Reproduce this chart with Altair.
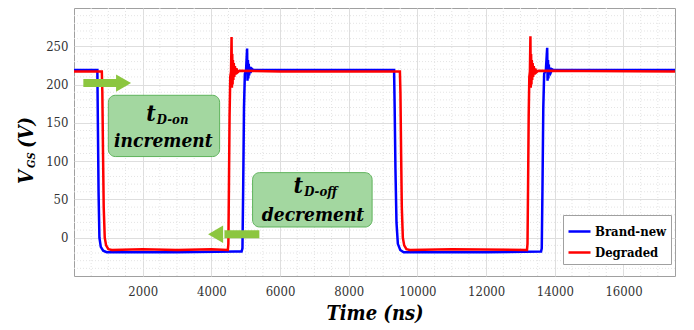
import altair as alt
import pandas as pd

# ---- data ----
series_names = ["Brand-new", "Degraded"]
series_colors = ["#0000ff", "#ff0000"]

brand_new = [
    (0, 219), (680, 219), (695, 150), (715, 60), (740, 0), (780, -12), (850, -17), (950, -19),
    (3000, -19), (4700, -18), (4880, -18), (4905, -14), (4925, 60), (4950, 170), (4975, 214),
    (5010, 219), (5040, 247), (5052, 205), (5064, 232), (5076, 208), (5088, 227), (5100, 212),
    (5118, 223), (5140, 215), (5170, 221), (5220, 219),
    (9320, 219), (9337, 170), (9360, 90), (9390, 20), (9430, -8), (9500, -16), (9600, -19),
    (12000, -19), (13600, -18), (13620, -14), (13640, 60), (13665, 170), (13690, 214),
    (13740, 219), (13778, 248), (13790, 205), (13802, 232), (13814, 208), (13826, 226),
    (13840, 213), (13860, 222), (13885, 216), (13920, 220), (13970, 219), (17500, 219),
]

degraded = [
    (0, 217), (810, 217), (825, 190), (845, 110), (865, 40), (895, 0), (935, -10), (1000, -15),
    (1100, -16), (2000, -15), (3000, -16), (4000, -15), (4480, -16), (4495, -8), (4510, 60),
    (4530, 160), (4550, 210), (4572, 217), (4588, 262), (4598, 196), (4608, 240), (4618, 200),
    (4628, 232), (4640, 206), (4653, 228), (4668, 210), (4686, 224), (4706, 213), (4730, 221),
    (4765, 216), (4815, 218), (6000, 217),
    (9490, 217), (9505, 190), (9525, 110), (9545, 40), (9575, 0), (9615, -10), (9680, -15),
    (9780, -16), (11000, -15), (13190, -16), (13205, -8), (13220, 60), (13240, 160),
    (13258, 210), (13275, 217), (13290, 263), (13300, 196), (13310, 240), (13320, 200),
    (13330, 232), (13342, 206), (13355, 228), (13370, 210), (13388, 224), (13408, 213),
    (13432, 221), (13466, 216), (13515, 218), (17500, 217),
]

x_ticks = [2000, 4000, 6000, 8000, 10000, 12000, 14000, 16000]
y_ticks = [0, 50, 100, 150, 200, 250]
x_domain = [0, 17500]
y_domain = [-50, 300]

minor_x = [m for m in range(500, 17500, 500) if m % 2000 != 0]
minor_y = [m for m in range(-40, 300, 10) if m % 50 != 0]

boxes = pd.DataFrame({
    "t": [1000, 5200], "t2": [4240, 8680],
    "v": [106, 14], "v2": [186, 85],
})
arrow_shafts = pd.DataFrame({"t": [272, 4380], "t2": [1250, 5397], "v": [202, 4.5]})
arrow_heads = pd.DataFrame({"t": [1443, 4123], "v": [202, 4.5], "dir": ["right", "left"]})

FONT = "'DejaVu Serif Condensed', 'DejaVu Serif'"

rows = []
for name, pts in zip(series_names, [brand_new, degraded]):
    for t, v in pts:
        rows.append({"t": t, "v": v, "series": name})
lines_df = pd.DataFrame(rows)

xs = alt.Scale(domain=x_domain, nice=False, zero=False)
ys = alt.Scale(domain=y_domain, nice=False, zero=False)

x_axis = alt.Axis(
    values=x_ticks, title="Time (ns)", grid=True, gridColor="#dedede", gridWidth=1,
    ticks=False, domain=False, labelFont=FONT, labelFontSize=13, labelColor="#333333",
    labelPadding=9, titleFont=FONT, titleFontSize=20, titleFontStyle="italic",
    titleFontWeight="bold", titleColor="black", titlePadding=5, labelExpr="datum.value",
)
y_axis = alt.Axis(
    values=y_ticks, title=None, grid=True, gridColor="#dedede", gridWidth=1,
    ticks=False, domain=False, labelFont=FONT, labelFontSize=13, labelColor="#333333",
    labelPadding=6, labelExpr="datum.value",
)


def X(field="t"):
    return alt.X(f"{field}:Q", scale=xs, axis=x_axis)


def Y(field="v"):
    return alt.Y(f"{field}:Q", scale=ys, axis=y_axis)


minor_x_layer = alt.Chart(pd.DataFrame({"t": minor_x})).mark_rule(
    color="#e4e4e4", strokeWidth=1, strokeDash=[1, 2]
).encode(x=X())

minor_y_layer = alt.Chart(pd.DataFrame({"v": minor_y})).mark_rule(
    color="#e4e4e4", strokeWidth=1, strokeDash=[1, 2]
).encode(y=Y())

lines = alt.Chart(lines_df).mark_line(strokeWidth=2.5).encode(
    x=X(), y=Y(),
    color=alt.Color(
        "series:N",
        scale=alt.Scale(domain=series_names, range=series_colors),
        legend=alt.Legend(
            title=None, orient="none", legendX=489, legendY=207,
            fillColor="white", strokeColor="#a0a0a0", padding=4,
            symbolType="stroke", symbolSize=484, symbolStrokeWidth=2.5,
            labelFont=FONT, labelFontWeight="bold", labelFontSize=13,
            labelColor="black", rowPadding=1, labelOffset=3,
        ),
    ),
)

box_layer = alt.Chart(boxes).mark_rect(
    cornerRadius=7, fill="#a3d7a0", stroke="#5fb35c", strokeWidth=1
).encode(x=X(), x2="t2:Q", y=Y(), y2="v2:Q")

shaft_layer = alt.Chart(arrow_shafts).mark_rule(
    color="#8cc63f", strokeWidth=8
).encode(x=X(), x2="t2:Q", y=Y())

head_right = alt.Chart(arrow_heads[arrow_heads["dir"] == "right"]).mark_point(
    shape="triangle-right", size=300, filled=True, fill="#8cc63f",
    opacity=1, strokeWidth=0
).encode(x=X(), y=Y())
head_left = alt.Chart(arrow_heads[arrow_heads["dir"] == "left"]).mark_point(
    shape="triangle-left", size=300, filled=True, fill="#8cc63f",
    opacity=1, strokeWidth=0
).encode(x=X(), y=Y())

ann_big = pd.DataFrame({"t": [2384, 6672], "v": [152, 57.8], "text": ["t", "t"]})
ann_sub = pd.DataFrame({"t": [2384, 6672], "v": [148, 54], "text": ["D-on", "D-off"]})
ann_word = pd.DataFrame({"t": [2602, 6961], "v": [119, 22], "text": ["increment", "decrement"]})

txt_kw = dict(font=FONT, fontStyle="italic", fontWeight="bold", color="black")
big_layer = alt.Chart(ann_big).mark_text(
    fontSize=23, align="right", baseline="alphabetic", **txt_kw
).encode(x=X(), y=Y(), text="text:N")
sub_layer = alt.Chart(ann_sub).mark_text(
    fontSize=13, align="left", baseline="alphabetic", dx=1, **txt_kw
).encode(x=X(), y=Y(), text="text:N")
word_layer = alt.Chart(ann_word).mark_text(
    fontSize=19, align="center", baseline="alphabetic", **txt_kw
).encode(x=X(), y=Y(), text="text:N")

yt_v = alt.Chart(pd.DataFrame({"text": ["V"]})).mark_text(
    fontSize=20, angle=270, align="left", baseline="alphabetic", **txt_kw
).encode(x=alt.value(-41), y=alt.value(176), text="text:N")
yt_gs = alt.Chart(pd.DataFrame({"text": ["GS"]})).mark_text(
    fontSize=11, angle=270, align="left", baseline="alphabetic", **txt_kw
).encode(x=alt.value(-39), y=alt.value(160), text="text:N")
yt_unit = alt.Chart(pd.DataFrame({"text": ["(V)"]})).mark_text(
    fontSize=20, angle=270, align="left", baseline="alphabetic", **txt_kw
).encode(x=alt.value(-41), y=alt.value(140), text="text:N")

chart = alt.layer(
    minor_x_layer, minor_y_layer, lines, box_layer, shaft_layer, head_right, head_left,
    big_layer, sub_layer, word_layer, yt_v, yt_gs, yt_unit,
).properties(
    width=601, height=268,
    autosize=alt.AutoSizeParams(type="none"),
    padding={"left": 66, "top": 0, "right": 11, "bottom": 48},
    background="white",
).configure_view(stroke="#a0a0a0", strokeWidth=1)

chart.save("out.html", embed_options={"renderer": "svg", "actions": False})
